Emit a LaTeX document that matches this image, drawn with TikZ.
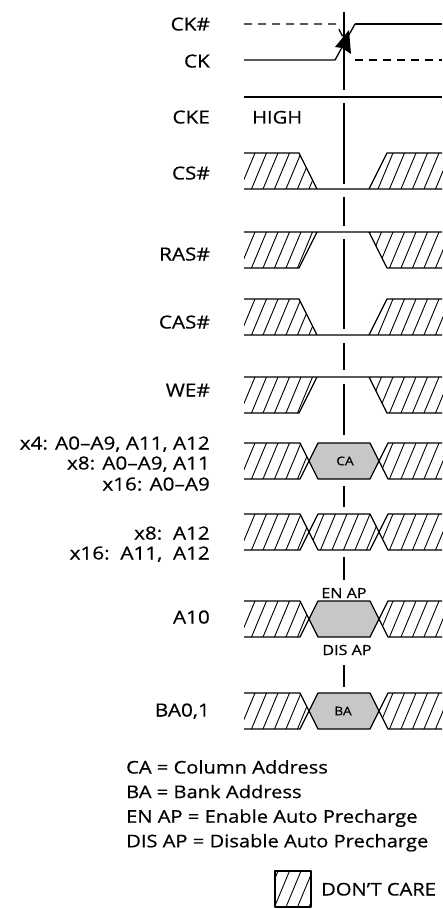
\documentclass[tikz,border=0pt]{standalone}
\usepackage{fontspec}
\setmainfont[FakeStretch=1.15,FakeBold=0.5]{Open Sans}

\definecolor{validgray}{gray}{0.78}

% hatched "don't care" area: #1 = top of the row, #2 = outline to clip to
\newcommand{\dontcare}[2]{%
  \begin{scope}
    \clip #2;
    \foreach \hx in {226,237.5,...,460}
      \draw[hatch] (\hx,#1+42) -- (\hx+20,#1-6);
  \end{scope}}

% signal that goes low between the two don't care areas
\newcommand{\lowpulse}[1]{%
  \dontcare{#1}{(244,#1) -- (299,#1) -- (317,#1+36) -- (244,#1+36) -- cycle}
  \dontcare{#1}{(369,#1+36) -- (387,#1) -- (450,#1) -- (450,#1+36) -- cycle}
  \draw[wave] (244,#1) -- (299,#1) -- (317,#1+36)
              (244,#1+36) -- (442,#1+36)
              (369,#1+36) -- (387,#1) -- (442,#1);}

% signal that stays high between the two don't care areas
\newcommand{\highpulse}[1]{%
  \dontcare{#1}{(244,#1) -- (317,#1) -- (299,#1+36) -- (244,#1+36) -- cycle}
  \dontcare{#1}{(369,#1) -- (387,#1+36) -- (450,#1+36) -- (450,#1) -- cycle}
  \draw[wave] (244,#1) -- (442,#1)
              (244,#1+36) -- (299,#1+36) -- (317,#1)
              (369,#1) -- (387,#1+36) -- (442,#1+36);}

% bus row, both ends don't care
\newcommand{\busends}[1]{%
  \dontcare{#1}{(244,#1) -- (300,#1) -- (309,#1+18) -- (300,#1+36) -- (244,#1+36) -- cycle}
  \dontcare{#1}{(379,#1+18) -- (388,#1) -- (450,#1) -- (450,#1+36) -- (388,#1+36) -- cycle}
  \draw[wave] (244,#1) -- (300,#1) -- (309,#1+18) -- (300,#1+36) -- (244,#1+36)
              (442,#1) -- (388,#1) -- (379,#1+18) -- (388,#1+36) -- (442,#1+36);}
\newcommand{\buscell}[1]{(309,#1+18) -- (318,#1) -- (370,#1) -- (379,#1+18) -- (370,#1+36) -- (318,#1+36) -- cycle}

\begin{document}
\begin{tikzpicture}[
    x=1pt, y=-1pt,
    wave/.style={line width=1.3pt, line join=round},
    hatch/.style={line width=0.9pt},
    refline/.style={line width=1.3pt},
    sig/.style={anchor=base east, inner sep=0pt, font=\fontsize{18}{20}\selectfont},
    busname/.style={inner sep=0pt, font=\fontsize{12}{14}\selectfont},
    apname/.style={inner sep=0pt, font=\fontsize{14}{16}\selectfont},
    key/.style={anchor=base west, inner sep=0pt, font=\fontsize{17.5}{20}\selectfont}
  ]
  \useasboundingbox (0,0) rectangle (442,909);

  % signal names
  \node[sig] (ckn)  at (210,30.5)  {CK\#};
  \node[sig] (ck)   at (210,67.5)  {CK};
  \node[sig] (cke)  at (210,123.5) {CKE};
  \node[sig] (csn)  at (210,179.5) {CS\#};
  \node[sig] (rasn) at (210,260.5) {RAS\#};
  \node[sig] (casn) at (210,328.5) {CAS\#};
  \node[sig] (wen)  at (210,396.5) {WE\#};
  \node[sig] (addra) at (210,449.5) {x4: A0–A9, A11, A12};
  \node[sig] (addrb) at (210,469.5) {x8: A0–A9, A11};
  \node[sig] (addrc) at (210,490.5) {x16: A0–A9};
  \node[sig] (hia)  at (210,539.5) {x8:~~A12};
  \node[sig] (hib)  at (210,559.5) {x16:~~A11,~~A12};
  \node[sig] (aten) at (210,623.5) {A10};
  \node[sig] (bank) at (210,716.5) {BA0,1};

  % clock
  \draw[wave, dash pattern=on 8pt off 6pt] (244,24) -- (336,24) -- (343,37);
  \draw[wave] (355,24) -- (442,24);
  \draw[wave] (244,60) -- (335,60) -- (355,24);
  \draw[wave, dash pattern=on 8pt off 6pt] (355,60) -- (442,60);
  \fill (349,30) -- (335,47) -- (342,48) -- (351,54) -- cycle;

  % clock enable
  \draw[wave] (244,97) -- (442,97);
  \node[key] (high) at (252,123.5) {HIGH};

  % command lines
  \lowpulse{153}
  \highpulse{232}
  \lowpulse{299}
  \highpulse{377}

  % column address
  \busends{443}
  \filldraw[wave, fill=validgray] \buscell{443};
  \node[busname] (ca) at (345,461) {CA};

  % upper address bits
  \busends{514}
  \dontcare{514}{\buscell{514}}
  \draw[wave] \buscell{514};

  % auto precharge
  \busends{601}
  \filldraw[wave, fill=validgray] \buscell{601};
  \node[apname] (enap)  at (344,593) {EN AP};
  \node[apname] (disap) at (347,650) {DIS AP};

  % bank address
  \busends{693}
  \filldraw[wave, fill=validgray] \buscell{693};
  \node[busname] (ba) at (343,711) {BA};

  % reference edge
  \foreach \ya/\yb in {12/90, 103/184, 197/226, 239/329, 343/370,
                       384/435, 486/507, 557/580, 665/687}
    \draw[refline] (344,\ya) -- (344,\yb);

  % key
  \foreach \i/\txt in {0/CA = Column Address, 1/BA = Bank Address,
                       2/EN AP = Enable Auto Precharge,
                       3/DIS AP = Disable Auto Precharge}
    \node[key] (key\i) at (126,773.5+24.6*\i) {\txt};
  \dontcare{871}{(275,871) rectangle (311,907)}
  \draw[wave] (275,871) rectangle (311,907);
  \node[key] (dc) at (321,895.5) {DON’T CARE};
\end{tikzpicture}
\end{document}
